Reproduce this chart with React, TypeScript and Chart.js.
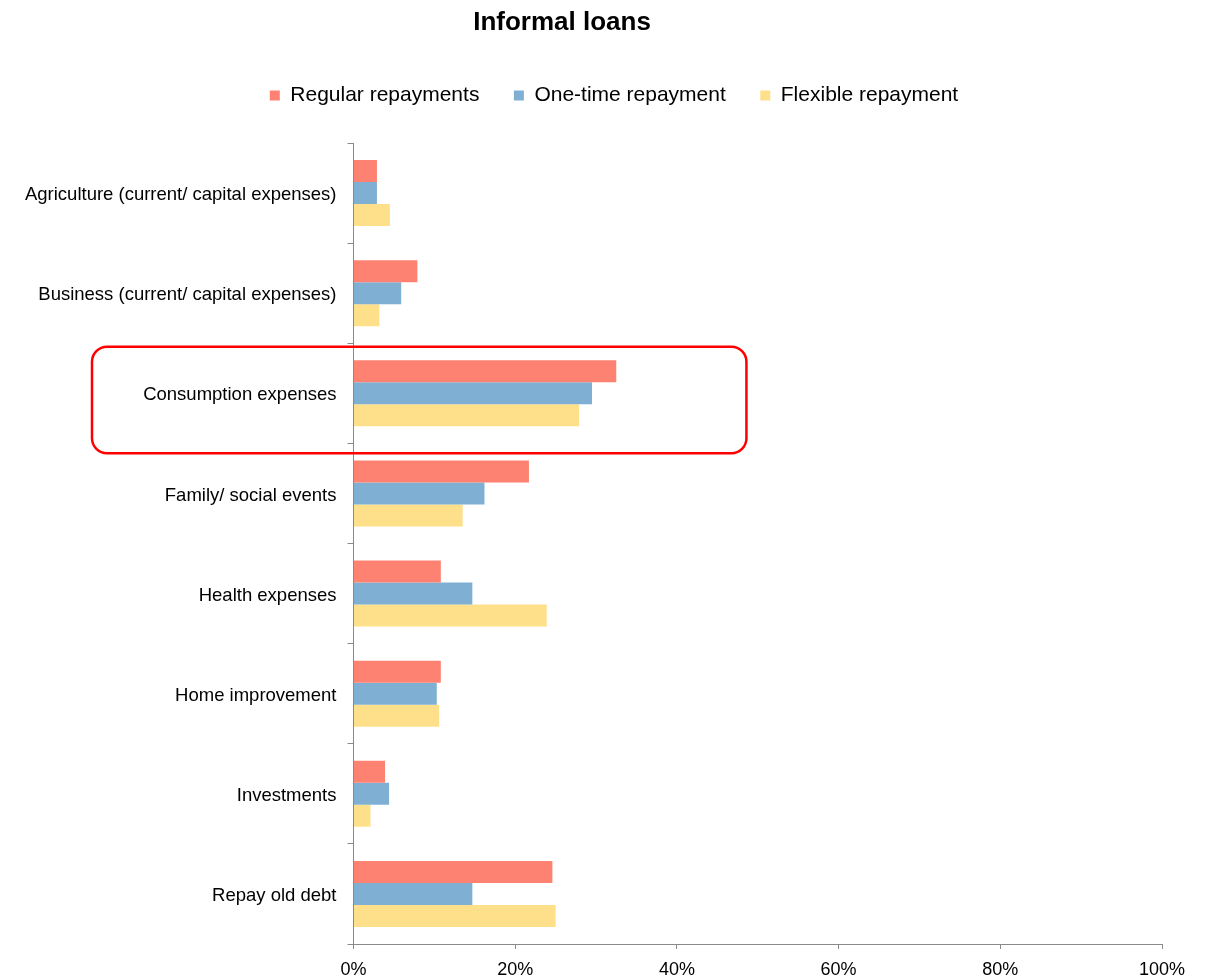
import React, { useEffect, useRef } from "react";
import { Chart, registerables } from "chart.js";

Chart.register(...registerables);

const categories = [
  "Agriculture (current/ capital expenses)",
  "Business (current/ capital expenses)",
  "Consumption expenses",
  "Family/ social events",
  "Health expenses",
  "Home improvement",
  "Investments",
  "Repay old debt",
];
const regularRepayments = [2.9, 7.9, 32.5, 21.7, 10.8, 10.8, 3.9, 24.6];
const oneTimeRepayment = [2.9, 5.9, 29.5, 16.2, 14.7, 10.3, 4.4, 14.7];
const flexibleRepayment = [4.5, 3.2, 27.9, 13.5, 23.9, 10.6, 2.1, 25.0];
const xTickValues = [0, 20, 40, 60, 80, 100];
const seriesLabels = ["Regular repayments", "One-time repayment", "Flexible repayment"];
const titleText = "Informal loans";
const highlightCategory = "Consumption expenses";
const highlightRightValue = 48.6;

const FONT = "'Liberation Sans', Arial, Helvetica, sans-serif";
const AXIS = "#8a8a8a";

const legendMargin = {
  id: "legendMargin",
  beforeInit(chart: any) {
    const legend = chart.legend;
    if (!legend) return;
    const orig = legend.fit;
    legend.fit = function () {
      orig.call(this);
      this.height += 27;
    };
  },
  afterLayout(chart: any) {
    const legend = chart.legend;
    if (legend) legend.left = 66;
  },
};

const titlePlugin = {
  id: "customTitle",
  afterDraw(chart: any) {
    const ctx = chart.ctx;
    ctx.save();
    ctx.font = `bold 26px ${FONT}`;
    ctx.fillStyle = "#000";
    ctx.textAlign = "center";
    ctx.textBaseline = "alphabetic";
    ctx.fillText(titleText, 562, 30);
    ctx.restore();
  },
};

const highlightBox = {
  id: "highlightBox",
  afterDraw(chart: any) {
    const { ctx, scales } = chart;
    const x = scales.x;
    const y = scales.y;
    const idx = categories.indexOf(highlightCategory);
    const c = y.getPixelForValue(idx);
    const top = c - 46.5;
    const bottom = c + 60;
    const left = 92;
    const right = x.getPixelForValue(highlightRightValue);
    const r = 15;
    ctx.save();
    ctx.strokeStyle = "#FF0000";
    ctx.lineWidth = 2.5;
    ctx.beginPath();
    ctx.moveTo(left + r, top);
    ctx.lineTo(right - r, top);
    ctx.arcTo(right, top, right, top + r, r);
    ctx.lineTo(right, bottom - r);
    ctx.arcTo(right, bottom, right - r, bottom, r);
    ctx.lineTo(left + r, bottom);
    ctx.arcTo(left, bottom, left, bottom - r, r);
    ctx.lineTo(left, top + r);
    ctx.arcTo(left, top, left + r, top, r);
    ctx.closePath();
    ctx.stroke();
    ctx.restore();
  },
};

export default function App() {
  const ref = useRef<HTMLCanvasElement | null>(null);

  useEffect(() => {
    if (!ref.current) return;
    const chart = new Chart(ref.current, {
      type: "bar",
      data: {
        labels: categories,
        datasets: [
          { label: seriesLabels[0], data: regularRepayments, backgroundColor: "#FD8272" },
          { label: seriesLabels[1], data: oneTimeRepayment, backgroundColor: "#7FB0D4" },
          { label: seriesLabels[2], data: flexibleRepayment, backgroundColor: "#FEDF8A" },
        ],
      },
      options: {
        indexAxis: "y",
        responsive: false,
        animation: false,
        layout: { padding: { left: 0, right: 50, top: 50.5, bottom: 0 } },
        datasets: { bar: { categoryPercentage: 0.66, barPercentage: 1.0 } },
        plugins: {
          title: { display: false },
          tooltip: { enabled: false },
          legend: {
            display: true,
            position: "top",
            labels: {
              boxWidth: 10,
              boxHeight: 10,
              padding: 34.5,
              color: "#000",
              font: { family: FONT, size: 21 },
            },
          },
        },
        scales: {
          x: {
            type: "linear",
            min: 0,
            max: 100,
            afterBuildTicks: (s: any) => {
              s.ticks = xTickValues.map((v) => ({ value: v }));
            },
            afterFit: (s: any) => {
              s.height = 34;
            },
            border: { display: true, color: AXIS, width: 1 },
            grid: {
              display: true,
              drawOnChartArea: false,
              drawTicks: true,
              tickLength: 5,
              color: AXIS,
            },
            ticks: {
              color: "#000",
              padding: 10,
              maxRotation: 0,
              autoSkip: false,
              font: { family: FONT, size: 18 },
              callback: (v: any) => `${v}%`,
            },
          },
          y: {
            type: "category",
            afterFit: (s: any) => {
              s.width = 353.5;
            },
            border: { display: true, color: AXIS, width: 1 },
            grid: {
              display: true,
              offset: true,
              drawOnChartArea: false,
              drawTicks: true,
              tickLength: 6,
              color: AXIS,
            },
            ticks: {
              color: "#000",
              padding: 11,
              labelOffset: 2,
              autoSkip: false,
              font: { family: FONT, size: 18.5 },
            },
          },
        },
      },
      plugins: [legendMargin, titlePlugin, highlightBox],
    } as any);
    return () => chart.destroy();
  }, []);

  return (
    <div
      style={{
        position: "fixed",
        left: 0,
        top: 0,
        width: 1212,
        height: 978,
        background: "#fff",
      }}
    >
      <canvas
        ref={ref}
        width={1212}
        height={978}
        style={{ display: "block", width: 1212, height: 978 }}
      />
    </div>
  );
}
